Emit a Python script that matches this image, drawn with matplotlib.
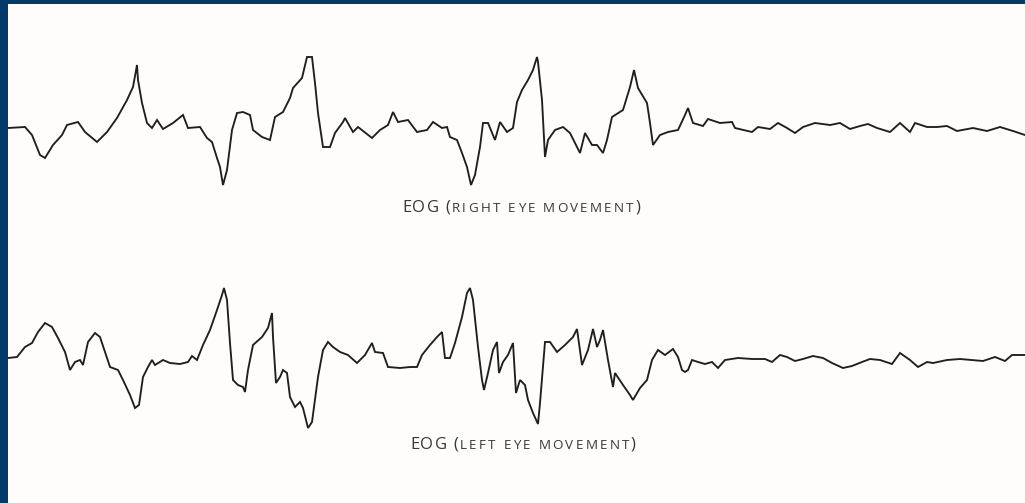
import matplotlib
matplotlib.use("Agg")
import matplotlib.pyplot as plt

# ---- data (x = time position, y = vertical pen position, downwards) ----
right_x = [8, 25, 32, 40, 45, 53, 62, 67, 78, 85, 97, 107, 117, 127, 133, 137, 138, 142, 147, 152,
           157, 163, 173, 183, 188, 200, 207, 212, 217, 220, 223, 227, 232, 237, 243, 250, 253, 262,
           270, 275, 283, 290, 293, 302, 307, 312, 315, 318, 323, 330, 335, 343,
           345, 353, 358, 372, 380, 388, 393, 398, 408, 417, 427, 433, 442, 447, 450, 457, 462, 467,
           471, 475, 480, 483, 488, 495, 500, 507, 513, 517, 522, 528, 533, 537, 538, 542, 545, 548,
           555, 563, 570, 580, 585, 592, 597, 603, 607, 612, 623, 630, 634, 638, 647, 650, 653, 660,
           668, 678, 685, 688, 693, 703, 708, 720, 732, 735, 752, 758, 770, 778, 787, 795, 803, 815,
           830, 840, 850, 860, 868, 877, 890, 900, 910, 915, 927, 937, 947, 957, 973, 987, 1000,
           1013, 1025]
right_y = [128, 127, 135, 155, 158, 145, 135, 125, 122, 132, 142, 132, 118, 100, 87, 65, 80, 103, 123, 128,
           120, 129, 123, 115, 128, 127, 138, 142, 158, 167, 185, 170, 130, 113, 112, 115, 130, 137,
           140, 117, 112, 98, 88, 78, 57, 57, 83, 113, 147, 147, 133, 122,
           118, 132, 127, 138, 130, 125, 112, 122, 120, 132, 130, 122, 128, 127, 137, 140, 153, 167,
           185, 175, 147, 123, 123, 140, 122, 132, 128, 102, 90, 80, 70, 57, 62, 100, 157, 140,
           130, 127, 133, 153, 133, 145, 145, 153, 140, 117, 110, 87, 70, 88, 103, 123, 145, 135,
           132, 130, 115, 108, 123, 126, 119, 123, 122, 128, 132, 127, 129, 123, 128, 133, 127, 123,
           125, 123, 129, 126, 124, 128, 132, 123, 132, 123, 127, 127, 126, 131, 128, 131, 127,
           131, 135]

left_x = [8, 17, 25, 32, 38, 45, 52, 58, 65, 70, 75, 80, 83, 88, 95, 100, 105, 110, 118, 123,
          130, 135, 139, 143, 148, 152, 155, 163, 170, 180, 188, 192, 197, 203, 210, 217, 222, 224,
          227, 230, 233, 238, 243, 245, 248, 253, 262, 268, 272, 273, 276, 280, 283, 287, 290, 295,
          300, 303, 308, 312, 318, 323, 328, 333, 340, 348, 357, 365, 372, 375, 383, 388, 400, 410,
          417, 422, 430, 437, 442, 445, 450, 455, 462, 467, 470, 473, 478, 482, 484, 488, 493, 497,
          499, 503, 508, 513, 516, 520, 525, 528, 533, 538, 540, 545, 550, 557, 565, 573, 577, 582,
          588, 593, 597, 600, 603, 608, 613, 615, 623, 630, 633, 640, 647, 652, 658, 665, 673, 678,
          682, 685, 688, 692, 698, 705, 712, 718, 725, 738, 752, 765, 772, 780, 787, 795, 803, 813,
          823, 832, 843, 852, 862, 870, 880, 892, 900, 910, 918, 927, 933, 947, 960, 972, 983, 995,
          1005, 1012, 1025]
left_y = [358, 357, 347, 343, 332, 323, 327, 338, 352, 370, 362, 360, 365, 342, 333, 337, 352, 367, 370, 380,
          395, 408, 405, 377, 367, 360, 365, 360, 363, 364, 362, 356, 360, 345, 330, 310, 295, 288,
          300, 343, 380, 385, 387, 392, 370, 345, 337, 328, 313, 337, 383, 377, 370, 373, 397, 407,
          402, 408, 428, 422, 377, 350, 342, 347, 352, 355, 363, 355, 343, 352, 353, 367, 368, 367,
          367, 355, 345, 337, 332, 358, 358, 343, 317, 293, 288, 300, 347, 380, 390, 373, 350, 342,
          373, 362, 355, 343, 393, 380, 385, 400, 413, 424, 403, 342, 342, 352, 345, 337, 329, 365,
          350, 329, 347, 340, 330, 360, 387, 373, 385, 395, 400, 388, 380, 360, 350, 355, 349, 357,
          370, 372, 370, 360, 362, 364, 362, 368, 360, 358, 359, 359, 362, 355, 357, 361, 359, 356,
          358, 363, 368, 366, 362, 359, 360, 364, 353, 360, 367, 362, 363, 360, 359, 360, 361, 357,
          361, 355, 355]

label_main = ["EOG (", "EOG ("]
label_small = ["RIGHT EYE MOVEMENT", "LEFT EYE MOVEMENT"]
label_pos = [(402, 212), (410, 449)]   # left edge, baseline

W, H = 1025, 503
fig = plt.figure(figsize=(W / 100, H / 100), dpi=100)
fig.patch.set_facecolor("#033a6a")
ax = fig.add_axes([8 / W, 0, (W - 8) / W, (H - 4) / H])
ax.set_facecolor("#fefdfc")
ax.set_xlim(8, W)
ax.set_ylim(H, 4)
ax.set_xticks([])
ax.set_yticks([])
for s in ax.spines.values():
    s.set_visible(False)

ink = "#1f1f1f"
ax.plot(right_x, right_y, color=ink, lw=1.35, solid_joinstyle="miter")
ax.plot(left_x, left_y, color=ink, lw=1.35, solid_joinstyle="miter")

fig.canvas.draw()
r = fig.canvas.get_renderer()
fam = ["Open Sans", "DejaVu Sans"]
tc = "#383838"
probe = fig.text(0, 0, "", fontsize=10, family=fam)


def width(s, size):
    probe.set_fontsize(size)
    probe.set_text(s + "|")
    w1 = probe.get_window_extent(r).width
    probe.set_text("|")
    return w1 - probe.get_window_extent(r).width


def put(s, x, y, size, track):
    """place characters with uniform extra tracking (pixels); return end x."""
    for i, ch in enumerate(s):
        xi = x + width(s[:i], size) + i * track
        fig.text(xi / W, y / H, ch, fontsize=size, family=fam, color=tc,
                 va="baseline", ha="left")
    return x + width(s, size) + (len(s) - 1) * track


for main, small, (px, py) in zip(label_main, label_small, label_pos):
    x0, y0 = ax.transData.transform((px, py))
    x = put(main, x0, y0, 12, 1.2)
    x = put(small, x + 1.5, y0, 9.6, 2.3)
    put(")", x + 1.5, y0, 12, 0)

probe.set_text("")
fig.savefig("out.png", dpi=100, facecolor=fig.get_facecolor())
